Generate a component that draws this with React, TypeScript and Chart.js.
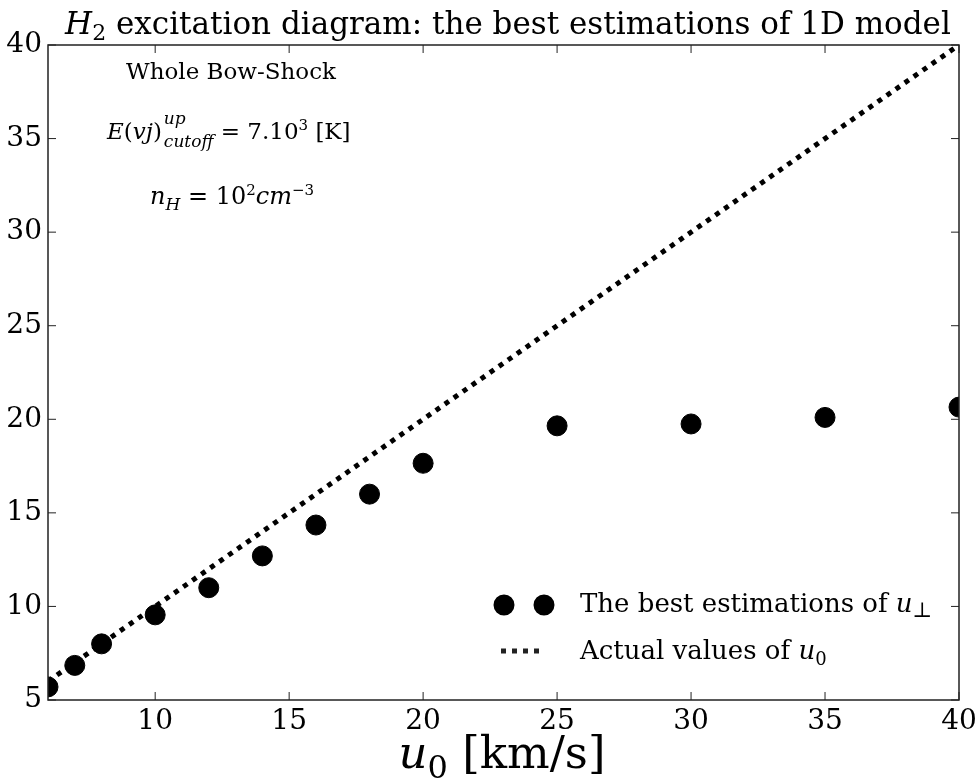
import React, { useEffect, useRef } from "react";
import { Chart, registerables } from "chart.js";

Chart.register(...registerables);

const xValues = [6, 7, 8, 10, 12, 14, 16, 18, 20, 25, 30, 35, 40];
const bestEstimations = [5.7, 6.85, 8.0, 9.55, 11.0, 12.7, 14.35, 16.0, 17.65, 19.65, 19.75, 20.1, 20.65];
const actualX = [6, 40];
const actualY = [6, 40];
const xTickValues = [10, 15, 20, 25, 30, 35, 40];
const yTickValues = [5, 10, 15, 20, 25, 30, 35, 40];

const FAMILY = "'DejaVu Serif', 'Liberation Serif', serif";

type Seg = { t: string; it?: boolean; sz?: number; dy?: number };

function drawRich(ctx: CanvasRenderingContext2D, segs: Seg[], x: number, y: number, size: number, align: "left" | "center") {
  const font = (s: Seg) => `${s.it ? "italic " : ""}${Math.round(size * (s.sz ?? 1))}px ${FAMILY}`;
  let total = 0;
  const widths: number[] = [];
  for (const s of segs) {
    ctx.font = font(s);
    const w = ctx.measureText(s.t).width;
    widths.push(w);
    total += w;
  }
  let cx = align === "center" ? x - total / 2 : x;
  ctx.textBaseline = "alphabetic";
  ctx.textAlign = "left";
  segs.forEach((s, i) => {
    ctx.font = font(s);
    ctx.fillText(s.t, cx, y + (s.dy ?? 0) * size);
    cx += widths[i];
  });
  return cx;
}

const decorPlugin = {
  id: "decor",
  afterDatasetsDraw(chart: any) {
    const { ctx, chartArea: a, scales } = chart;
    const xs = scales.x;
    const ys = scales.y;
    ctx.save();
    // frame
    ctx.strokeStyle = "#222";
    ctx.lineWidth = 1.5;
    ctx.strokeRect(a.left, a.top, a.right - a.left, a.bottom - a.top);
    // inward ticks
    ctx.lineWidth = 1;
    for (const v of xTickValues) {
      const px = xs.getPixelForValue(v);
      ctx.beginPath();
      ctx.moveTo(px, a.bottom);
      ctx.lineTo(px, a.bottom - 8);
      ctx.moveTo(px, a.top);
      ctx.lineTo(px, a.top + 8);
      ctx.stroke();
    }
    for (const v of yTickValues) {
      const py = ys.getPixelForValue(v);
      ctx.beginPath();
      ctx.moveTo(a.left, py);
      ctx.lineTo(a.left + 8, py);
      ctx.moveTo(a.right, py);
      ctx.lineTo(a.right - 8, py);
      ctx.stroke();
    }
    ctx.fillStyle = "#000";
    // title
    drawRich(ctx, [
      { t: "H", it: true },
      { t: "2", sz: 0.7, dy: 0.18 },
      { t: " excitation diagram: the best estimations of 1D model" },
    ], 508, 34, 31, "center");
    // annotations
    drawRich(ctx, [{ t: "Whole Bow-Shock" }], 231, 79, 23, "center");
    const ex = drawRich(ctx, [
      { t: "E", it: true },
      { t: "(" },
      { t: "vj", it: true },
      { t: ")" },
    ], 107, 139, 23, "left");
    ctx.font = `italic 17px ${FAMILY}`;
    ctx.textAlign = "left";
    ctx.fillText("up", ex + 2, 124);
    ctx.fillText("cutoff", ex + 2, 147);
    const cw = ctx.measureText("cutoff").width;
    drawRich(ctx, [{ t: " = 7.10" }, { t: "3", sz: 0.65, dy: -0.4 }, { t: " [K]" }], ex + 2 + cw, 139, 23, "left");
    drawRich(ctx, [
      { t: "n", it: true },
      { t: "H", it: true, sz: 0.72, dy: 0.25 },
      { t: " = 10" },
      { t: "2", sz: 0.65, dy: -0.4 },
      { t: "cm", it: true },
      { t: "\u22123", sz: 0.65, dy: -0.4 },
    ], 232, 204, 23.5, "center");
    // legend
    ctx.beginPath();
    ctx.arc(504, 605, 10.5, 0, Math.PI * 2);
    ctx.arc(544, 605, 10.5, 0, Math.PI * 2);
    ctx.fill();
    drawRich(ctx, [{ t: "The best estimations of " }, { t: "u", it: true }, { t: "\u22a5", sz: 0.8, dy: 0.2 }], 580, 612, 26, "left");
    ctx.beginPath();
    ctx.lineWidth = 5;
    ctx.setLineDash([5, 6]);
    ctx.moveTo(501, 651);
    ctx.lineTo(543, 651);
    ctx.stroke();
    ctx.setLineDash([]);
    drawRich(ctx, [{ t: "Actual values of " }, { t: "u", it: true }, { t: "0", sz: 0.7, dy: 0.22 }], 580, 659, 26, "left");
    // x axis title
    drawRich(ctx, [{ t: "u", it: true }, { t: "0", sz: 0.72, dy: 0.22 }, { t: " [km/s]" }], 502, 768, 45, "center");
    ctx.restore();
  },
};

export default function App() {
  const ref = useRef<HTMLCanvasElement | null>(null);
  useEffect(() => {
    if (!ref.current) return;
    const chart = new Chart(ref.current, {
      type: "scatter",
      data: {
        datasets: [
          {
            type: "line",
            label: "Actual values of u0",
            data: actualX.map((x, i) => ({ x, y: actualY[i] })),
            borderColor: "#000",
            borderWidth: 5,
            borderDash: [5, 6],
            borderCapStyle: "butt",
            pointRadius: 0,
            fill: false,
            clip: 0,
            order: 2,
          } as any,
          {
            label: "The best estimations of u⊥",
            data: xValues.map((x, i) => ({ x, y: bestEstimations[i] })),
            backgroundColor: "#000",
            borderColor: "#000",
            pointRadius: 10,
            clip: 0,
            order: 1,
          } as any,
        ],
      },
      options: {
        responsive: false,
        animation: false,
        layout: { padding: { left: 0, right: 18, top: 45, bottom: 0 } },
        plugins: { legend: { display: false }, tooltip: { enabled: false }, title: { display: false } },
        scales: {
          x: {
            type: "linear",
            min: 6,
            max: 40,
            grid: { display: false, drawTicks: false },
            border: { display: false },
            afterBuildTicks: (s: any) => { s.ticks = xTickValues.map((v) => ({ value: v })); },
            afterFit: (s: any) => { s.height = 82; s.paddingLeft = 0; s.paddingRight = 0; },
            ticks: { color: "#000", padding: 5, font: { family: FAMILY, size: 28 } },
          },
          y: {
            type: "linear",
            min: 5,
            max: 40,
            grid: { display: false, drawTicks: false },
            border: { display: false },
            afterBuildTicks: (s: any) => { s.ticks = yTickValues.map((v) => ({ value: v })); },
            afterFit: (s: any) => { s.width = 48; s.paddingTop = 0; s.paddingBottom = 0; },
            ticks: { color: "#000", padding: 6, font: { family: FAMILY, size: 28 } },
          },
        },
      },
      plugins: [decorPlugin],
    } as any);
    return () => chart.destroy();
  }, []);
  return (
    <div style={{ position: "absolute", left: 0, top: 0, width: 977, height: 782, background: "#fff" }}>
      <canvas ref={ref} width={977} height={782} style={{ display: "block" }} />
    </div>
  );
}
